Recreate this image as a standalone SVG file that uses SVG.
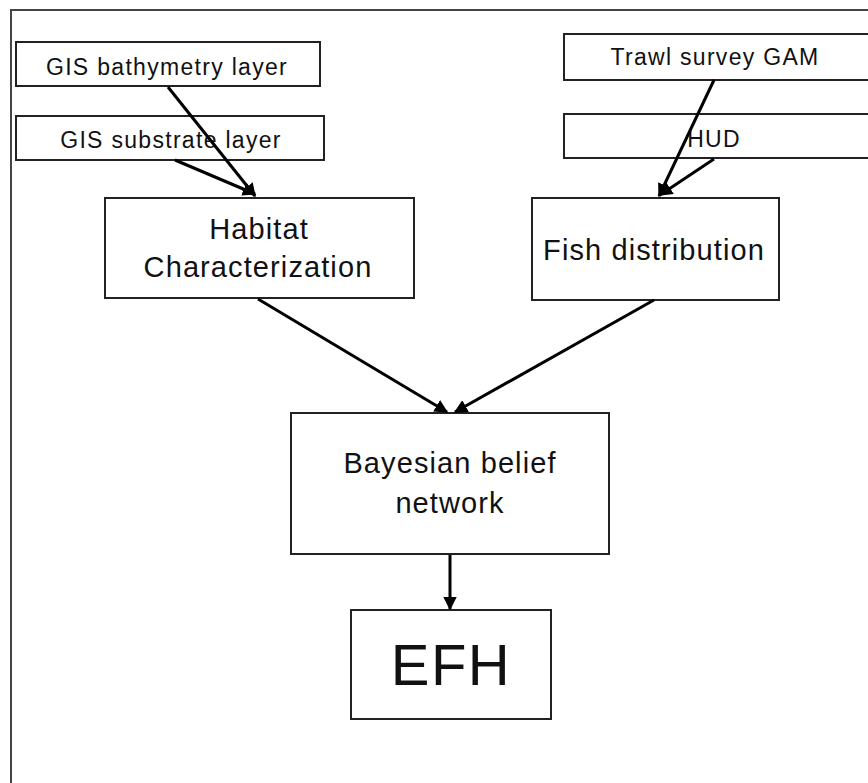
<svg xmlns="http://www.w3.org/2000/svg" width="868" height="783" viewBox="0 0 868 783">
<style>
.box{fill:#fff;stroke:#222;stroke-width:2}
.t{font-family:"Liberation Sans",Arial,sans-serif;fill:#111;text-anchor:middle}
.s{font-size:23px;letter-spacing:1.3px}
.m{font-size:29px;letter-spacing:1.1px}
.c{stroke:#000;stroke-width:3;fill:none;marker-end:url(#ah)}
</style>
<defs>
<marker id="ah" viewBox="0 0 10 10" refX="9" refY="5" markerWidth="4.5" markerHeight="4.5" orient="auto" markerUnits="strokeWidth">
<path d="M0,0 L10,5 L0,10 z" fill="#000"/>
</marker>
</defs>
<rect width="868" height="783" fill="#fff"/>
<rect x="11" y="10" width="900" height="900" fill="none" stroke="#444" stroke-width="2"/>
<g id="bathymetry"><rect class="box" x="16" y="42" width="304" height="44"/><text class="t s" x="167" y="75">GIS bathymetry layer</text></g>
<g id="substrate"><rect class="box" x="16" y="116" width="308" height="44"/><text class="t s" x="171" y="148">GIS substrate layer</text></g>
<g id="trawl"><rect class="box" x="564" y="34" width="320" height="46"/><text class="t s" x="715" y="65">Trawl survey GAM</text></g>
<g id="hud"><rect class="box" x="564" y="114" width="320" height="44"/><text class="t s" x="714" y="147">HUD</text></g>
<g id="habitat"><rect class="box" x="105" y="198" width="309" height="100"/><text class="t m" x="259" y="239">Habitat</text><text class="t m" x="258" y="277">Characterization</text></g>
<g id="fish"><rect class="box" x="532" y="198" width="247" height="102"/><text class="t m" x="654" y="260">Fish distribution</text></g>
<g id="bayes"><rect class="box" x="291" y="413" width="318" height="141"/><text class="t m" x="450" y="473">Bayesian belief</text><text class="t m" x="450" y="513">network</text></g>
<g id="efh"><rect class="box" x="351" y="610" width="200" height="109"/><text class="t" x="451" y="685" style="font-size:58px;letter-spacing:1.5px">EFH</text></g>
<g id="connectors">
<line class="c" x1="168" y1="87" x2="255" y2="196"/>
<line class="c" x1="175" y1="160" x2="255" y2="194"/>
<line class="c" x1="714" y1="80" x2="659" y2="196"/>
<line class="c" x1="714" y1="159" x2="660" y2="195"/>
<line class="c" x1="258" y1="299" x2="447" y2="412"/>
<line class="c" x1="654" y1="300" x2="455" y2="412"/>
<line class="c" x1="450" y1="555" x2="450" y2="609"/>
</g>
</svg>
